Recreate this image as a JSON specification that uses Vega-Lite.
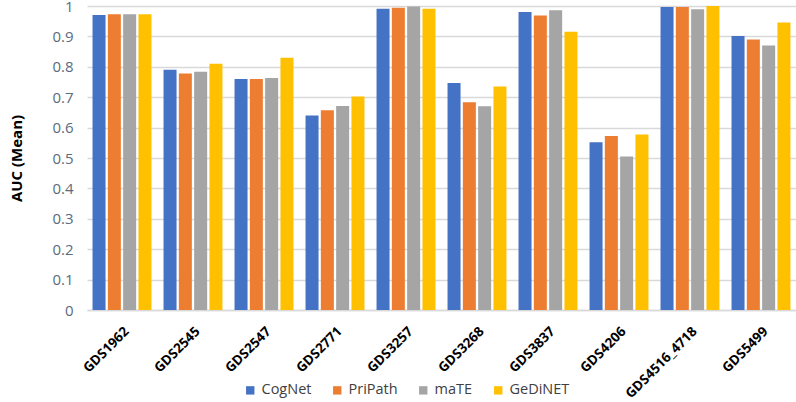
{
  "$schema": "https://vega.github.io/schema/vega-lite/v6.json",
  "autosize": {"type": "none"},
  "padding": {"left": 87, "top": 6, "right": 0, "bottom": 92},
  "width": 709,
  "height": 304,
  "background": "white",
  "config": {"view": {"stroke": null}, "font": "Open Sans"},
  "data": {"values": [
    {"ds": "GDS1962", "method": "CogNet", "auc": 0.97},
    {"ds": "GDS1962", "method": "PriPath", "auc": 0.973},
    {"ds": "GDS1962", "method": "maTE", "auc": 0.973},
    {"ds": "GDS1962", "method": "GeDiNET", "auc": 0.973},
    {"ds": "GDS2545", "method": "CogNet", "auc": 0.79},
    {"ds": "GDS2545", "method": "PriPath", "auc": 0.778},
    {"ds": "GDS2545", "method": "maTE", "auc": 0.784},
    {"ds": "GDS2545", "method": "GeDiNET", "auc": 0.81},
    {"ds": "GDS2547", "method": "CogNet", "auc": 0.76},
    {"ds": "GDS2547", "method": "PriPath", "auc": 0.76},
    {"ds": "GDS2547", "method": "maTE", "auc": 0.763},
    {"ds": "GDS2547", "method": "GeDiNET", "auc": 0.83},
    {"ds": "GDS2771", "method": "CogNet", "auc": 0.64},
    {"ds": "GDS2771", "method": "PriPath", "auc": 0.657},
    {"ds": "GDS2771", "method": "maTE", "auc": 0.671},
    {"ds": "GDS2771", "method": "GeDiNET", "auc": 0.702},
    {"ds": "GDS3257", "method": "CogNet", "auc": 0.991},
    {"ds": "GDS3257", "method": "PriPath", "auc": 0.994},
    {"ds": "GDS3257", "method": "maTE", "auc": 0.998},
    {"ds": "GDS3257", "method": "GeDiNET", "auc": 0.991},
    {"ds": "GDS3268", "method": "CogNet", "auc": 0.747},
    {"ds": "GDS3268", "method": "PriPath", "auc": 0.683},
    {"ds": "GDS3268", "method": "maTE", "auc": 0.67},
    {"ds": "GDS3268", "method": "GeDiNET", "auc": 0.735},
    {"ds": "GDS3837", "method": "CogNet", "auc": 0.98},
    {"ds": "GDS3837", "method": "PriPath", "auc": 0.969},
    {"ds": "GDS3837", "method": "maTE", "auc": 0.986},
    {"ds": "GDS3837", "method": "GeDiNET", "auc": 0.915},
    {"ds": "GDS4206", "method": "CogNet", "auc": 0.552},
    {"ds": "GDS4206", "method": "PriPath", "auc": 0.572},
    {"ds": "GDS4206", "method": "maTE", "auc": 0.505},
    {"ds": "GDS4206", "method": "GeDiNET", "auc": 0.577},
    {"ds": "GDS4516_4718", "method": "CogNet", "auc": 0.997},
    {"ds": "GDS4516_4718", "method": "PriPath", "auc": 0.997},
    {"ds": "GDS4516_4718", "method": "maTE", "auc": 0.989},
    {"ds": "GDS4516_4718", "method": "GeDiNET", "auc": 1.0},
    {"ds": "GDS5499", "method": "CogNet", "auc": 0.901},
    {"ds": "GDS5499", "method": "PriPath", "auc": 0.89},
    {"ds": "GDS5499", "method": "maTE", "auc": 0.87},
    {"ds": "GDS5499", "method": "GeDiNET", "auc": 0.946}
  ]},
  "mark": {"type": "bar"},
  "encoding": {
    "x": {
      "field": "ds", "type": "nominal", "sort": null,
      "scale": {"paddingInner": 0.17, "paddingOuter": 0.078},
      "axis": {
        "title": null, "labelAngle": -45, "labelFontWeight": "bold",
        "labelFontSize": 13.5, "labelColor": "#000000", "ticks": false, "domainColor": "#D9D9D9",
        "domainWidth": 1.5, "labelPadding": 14
      }
    },
    "xOffset": {
      "field": "method", "type": "nominal", "sort": ["CogNet", "PriPath", "maTE", "GeDiNET"],
      "scale": {"paddingInner": 0.15}
    },
    "y": {
      "field": "auc", "type": "quantitative",
      "scale": {"domain": [0, 1], "nice": false},
      "axis": {
        "title": "AUC (Mean)", "titleFontWeight": "bold", "titleFontSize": 15, "titleColor": "#000000",
        "titlePadding": 27, "values": [0, 0.1, 0.2, 0.3, 0.4, 0.5, 0.6, 0.7, 0.8, 0.9, 1],
        "labelFontSize": 15, "labelColor": "#5B6B7E", "labelPadding": 14, "ticks": false, "domain": false,
        "gridColor": "#D9D9D9", "gridWidth": 1.5,
        "labelExpr": "datum.value == 0 ? '0' : datum.value == 1 ? '1' : format(datum.value, '.1f')"
      }
    },
    "color": {
      "field": "method", "type": "nominal", "sort": ["CogNet", "PriPath", "maTE", "GeDiNET"],
      "scale": {"domain": ["CogNet", "PriPath", "maTE", "GeDiNET"], "range": ["#4472C4", "#ED7D31", "#A5A5A5", "#FFC000"]},
      "legend": {
        "title": null, "orient": "none", "direction": "horizontal", "legendX": 156, "legendY": 377,
        "symbolType": "square", "symbolSize": 70, "labelFontSize": 14.5, "labelColor": "#404040",
        "labelOffset": 4, "columnPadding": 18, "symbolOpacity": 1
      }
    }
  }
}
